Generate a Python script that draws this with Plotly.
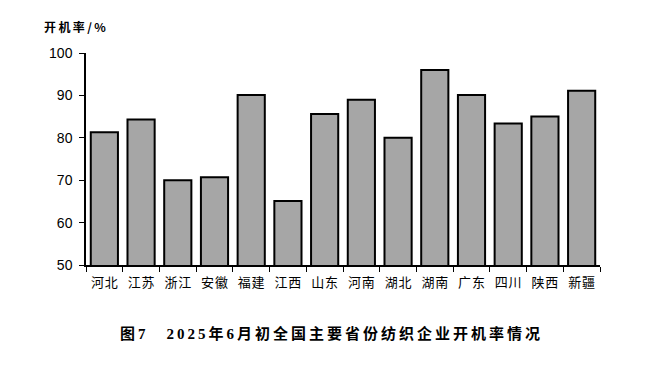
import plotly.graph_objects as go

provinces = ["河北", "江苏", "浙江", "安徽", "福建", "江西", "山东", "河南", "湖北", "湖南", "广东", "四川", "陕西", "新疆"]
rates = [81.3, 84.3, 70.0, 70.7, 90.1, 65.1, 85.6, 89.0, 80.0, 96.0, 90.1, 83.4, 85.0, 91.1]
y_ticks = [50, 60, 70, 80, 90, 100]
y_title = "开机率/%"
caption = "图7　2025年6月初全国主要省份纺织企业开机率情况"


def spaced(s, sep="\u2009"):
    return sep.join(list(s))


fig = go.Figure(go.Bar(
    x=provinces, y=rates,
    marker=dict(color="#a6a6a6", line=dict(color="black", width=2)),
    width=0.74,
))

W, H = 672, 367
OFF = 8  # default body margin of the html page
L, R, T, B = 86 - OFF, 80, 53 - OFF, 110
pw, ph = W - L - R, H - T - B

fig.update_layout(
    width=W, height=H,
    margin=dict(l=L, r=R, t=T, b=B, pad=0),
    plot_bgcolor="white", paper_bgcolor="white",
    showlegend=False,
    font=dict(family="Liberation Sans, Noto Sans CJK SC", color="black"),
    xaxis=dict(
        showline=True, linecolor="black", linewidth=1.5,
        ticks="outside", tickson="boundaries", ticklen=5, tickwidth=1.2, tickcolor="black",
        tickmode="array", tickvals=provinces, ticktext=[spaced(p, "\u200a") for p in provinces],
        tickangle=0,
        tickfont=dict(family="Noto Sans CJK SC", size=13, color="black"),
        ticklabelstandoff=5,
        showgrid=False,
    ),
    yaxis=dict(
        range=[50, 100], tickvals=y_ticks,
        showline=True, linecolor="black", linewidth=1.5,
        ticks="outside", ticklen=5, tickwidth=1.2, tickcolor="black",
        tickfont=dict(family="Liberation Sans", size=14, color="black"),
        ticklabelstandoff=4,
        showgrid=False, zeroline=False,
    ),
    annotations=[
        dict(text=spaced(y_title), xref="paper", yref="paper",
             x=(42 - 86) / pw, y=(265 - 26) / ph, xanchor="left", yanchor="middle",
             showarrow=False, font=dict(family="Noto Sans CJK SC", size=12, color="black", weight="bold")),
        dict(text=spaced(caption), xref="paper", yref="paper",
             x=(330 - 86) / pw, y=(265 - 333) / ph, xanchor="center", yanchor="middle",
             showarrow=False, font=dict(family="Liberation Serif, Noto Sans CJK SC", size=15, color="black", weight="bold")),
    ],
)

fig.write_html("out.html")
